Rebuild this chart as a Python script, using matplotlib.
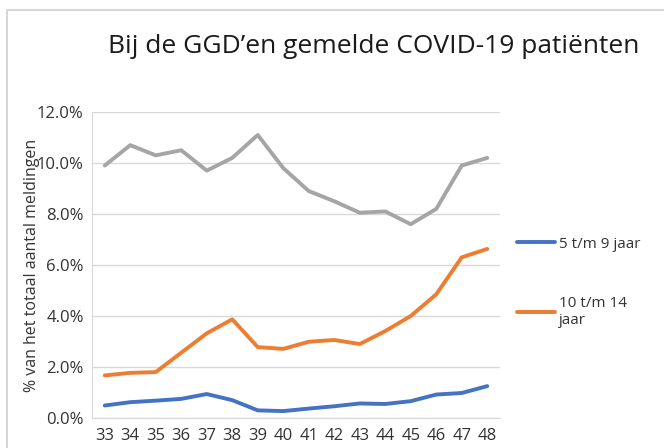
import matplotlib.pyplot as plt
from matplotlib.patches import Rectangle
from matplotlib.ticker import FuncFormatter

WEEKS = [str(w) for w in range(33, 49)]
GRAY = [9.9, 10.7, 10.3, 10.5, 9.7, 10.2, 11.1, 9.8, 8.9, 8.5, 8.05, 8.1, 7.6, 8.2, 9.9, 10.2]
ORANGE = [1.67, 1.77, 1.80, 2.56, 3.32, 3.87, 2.78, 2.71, 2.99, 3.06, 2.90, 3.41, 4.0, 4.85, 6.3, 6.63]
BLUE = [0.49, 0.62, 0.68, 0.75, 0.94, 0.70, 0.30, 0.27, 0.37, 0.46, 0.57, 0.55, 0.66, 0.92, 0.98, 1.25]

TITLE = "Bij de GGD\u2019en gemelde COVID-19 pati\u00ebnten"
YLABEL = "% van het totaal aantal meldingen"
LABELS = ["5 t/m 9 jaar", "10 t/m 14\njaar"]

plt.rcParams["font.family"] = ["Open Sans", "DejaVu Sans"]
TXT = "#333333"

fig = plt.figure(figsize=(6.64, 4.48), dpi=100)
# chart-area border (cropped screenshot)
fig.patches.append(Rectangle((7 / 664, -0.1), 1.2, (448 - 10) / 448 + 0.1,
                             transform=fig.transFigure, fill=False,
                             edgecolor="#D0D0D0", linewidth=1.2))

ax = fig.add_axes([92 / 664, 30 / 448, 408 / 664, 306 / 448])
x = range(len(WEEKS))
ax.plot(x, GRAY, color="#A5A5A5", lw=2.8, solid_capstyle="round")
l1, = ax.plot(x, BLUE, color="#4472C4", lw=2.8, solid_capstyle="round")
l2, = ax.plot(x, ORANGE, color="#ED7D31", lw=2.8, solid_capstyle="round")

ax.set_xlim(-0.5, len(WEEKS) - 0.5)
ax.set_ylim(0, 12)
ax.set_yticks([0, 2, 4, 6, 8, 10, 12])
ax.yaxis.set_major_formatter(FuncFormatter(lambda v, _: f"{v:.1f}%"))
ax.set_xticks(list(x))
ax.set_xticklabels(WEEKS)
ax.tick_params(length=0, labelsize=12, colors=TXT)
ax.tick_params(axis="y", pad=6)
ax.tick_params(axis="x", pad=7)
ax.grid(axis="y", color="#D9D9D9", lw=1)
ax.set_axisbelow(True)
for s in ["top", "right"]:
    ax.spines[s].set_visible(False)
for s in ["left", "bottom"]:
    ax.spines[s].set_color("#D9D9D9")
ax.set_ylabel(YLABEL, fontsize=11.5, color=TXT)
ax.yaxis.set_label_coords(-(92 - 40) / 408, 0.5)

fig.text(108 / 664, 1 - 53 / 448, TITLE, fontsize=19, color="#1a1a1a",
         ha="left", va="baseline")

ax.legend([l1, l2], LABELS, loc="upper left", bbox_to_anchor=(503 / 664, 1 - 223 / 448),
          bbox_transform=fig.transFigure, frameon=False, fontsize=11,
          handlelength=2.5, labelspacing=2.9, labelcolor=TXT, handletextpad=0.25)

fig.savefig("out.png", dpi=100)
